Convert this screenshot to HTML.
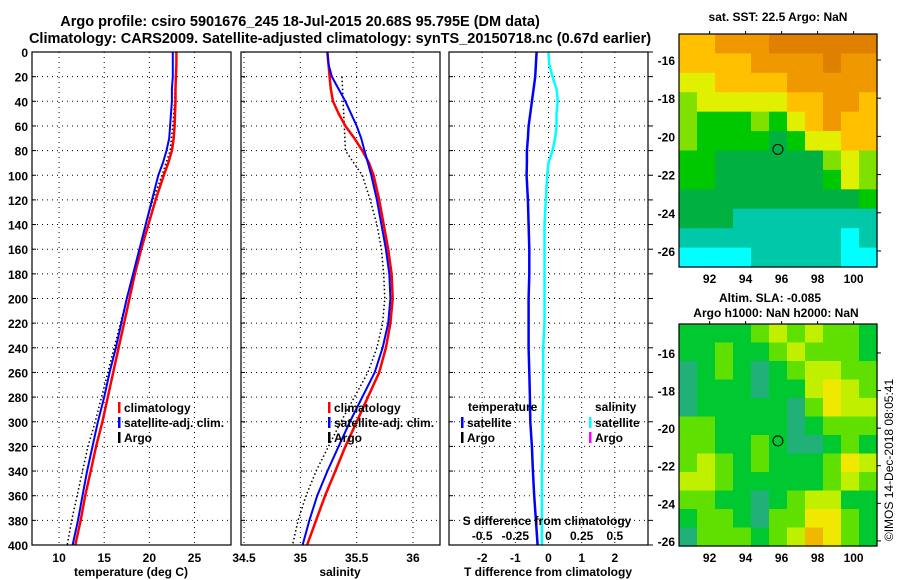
<!DOCTYPE html>
<html><head><meta charset="utf-8"><style>
body{margin:0;background:#fff;}
svg{display:block;font-family:"Liberation Sans",sans-serif;font-weight:bold;}
</style></head><body>
<svg id="c" width="900" height="580" viewBox="0 0 900 580">
<text x="300" y="26" font-size="14.5" text-anchor="middle">Argo profile: csiro 5901676_245 18-Jul-2015 20.68S 95.795E (DM data)</text>
<text x="340" y="43" font-size="14.5" text-anchor="middle">Climatology: CARS2009. Satellite-adjusted climatology: synTS_20150718.nc (0.67d earlier)</text>
<text transform="translate(893,460) rotate(-90)" font-size="12" font-weight="normal" text-anchor="middle">©IMOS 14-Dec-2018 08:05:41</text>
</svg>
<script>
const depths=[0,10,20,30,40,50,60,70,80,90,100,120,140,160,180,200,220,240,260,280,300,320,340,360,380,400];
const tClim=[23.0,23.0,22.95,22.9,22.9,22.85,22.8,22.7,22.5,22.1,21.6,20.7,19.9,19.1,18.4,17.8,17.2,16.6,16.0,15.4,14.8,14.1,13.5,12.9,12.4,11.8];
const tSat=[22.6,22.6,22.6,22.5,22.5,22.4,22.3,22.2,21.9,21.5,21.0,20.3,19.6,18.9,18.2,17.5,16.9,16.3,15.6,15.0,14.3,13.7,13.1,12.6,12.1,11.5];
const sClim=[35.24,35.25,35.26,35.27,35.29,35.34,35.40,35.48,35.55,35.61,35.65,35.70,35.74,35.78,35.81,35.82,35.80,35.76,35.70,35.60,35.50,35.40,35.31,35.22,35.14,35.06];
const sSat=[35.24,35.25,35.28,35.34,35.40,35.45,35.50,35.54,35.57,35.60,35.63,35.68,35.72,35.76,35.79,35.80,35.78,35.73,35.66,35.55,35.44,35.34,35.24,35.15,35.08,35.02];
const argoDepths=[20,40,60,80,100,120,140,160,180,200,220,240,260,280,300,320,340,360,380,400];
const tArgo=[22.9,22.8,22.6,22.3,21.4,20.4,19.6,18.9,18.2,17.5,16.8,16.1,15.4,14.7,14.0,13.2,12.6,12.0,11.4,10.9];
const sArgo=[35.37,35.38,35.39,35.40,35.55,35.62,35.68,35.72,35.74,35.75,35.73,35.68,35.60,35.48,35.36,35.25,35.14,35.05,34.98,34.93];
const tDiff=[-0.36,-0.38,-0.40,-0.45,-0.50,-0.55,-0.6,-0.62,-0.65,-0.65,-0.66,-0.62,-0.6,-0.58,-0.58,-0.6,-0.6,-0.6,-0.58,-0.56,-0.55,-0.5,-0.47,-0.43,-0.38,-0.33];
const sDiff=[0,0.005,0.03,0.06,0.07,0.06,0.06,0.05,0.03,0.0,-0.01,-0.02,-0.03,-0.03,-0.03,-0.03,-0.03,-0.04,-0.04,-0.04,-0.045,-0.045,-0.05,-0.05,-0.05,-0.05];
const depthTicks=[0,20,40,60,80,100,120,140,160,180,200,220,240,260,280,300,320,340,360,380,400];
const tTicks=[10,15,20,25];
const sTicks=[34.5,35,35.5,36];
const sTickLabels=["34.5","35","35.5","36"];
const dTTicks=[-2,-1,0,1,2];
const dSTicks=[-0.5,-0.25,0,0.25,0.5];
const dSTickLabels=["-0.5","-0.25","0","0.25","0.5"];
const sstLevels=[
[6,6,7,7,7,8,8,8,8,8,8],[6,6,6,6,7,7,7,7,8,7,7],[5,5,6,6,6,6,7,7,7,7,7],[4,5,5,5,5,5,6,6,7,7,6],
[4,3,3,3,4,3,5,6,7,6,6],[4,3,3,3,3,2,3,5,5,6,6],[3,3,2,2,2,2,2,2,4,5,4],[3,3,2,2,2,2,2,2,3,5,4],
[2,2,2,2,2,2,2,2,2,2,3],[2,2,2,1,1,1,1,1,1,1,1],[1,1,1,1,1,1,1,1,1,0,1],[0,0,0,0,1,1,1,1,1,0,0]];
const slaLevels=[
[2,2,2,2,3,4,3,4,3,3,2],[2,2,3,2,2,3,4,3,3,3,2],[1,2,3,2,1,2,3,4,4,3,3],[1,2,2,2,1,2,2,4,5,4,3],
[1,2,2,2,2,2,1,3,5,4,4],[3,3,2,2,2,2,1,2,3,3,3],[3,3,2,2,3,2,1,1,2,3,2],[3,4,3,2,3,2,2,2,3,5,4],
[4,4,3,2,2,2,2,2,3,4,3],[3,3,2,2,1,2,3,4,4,2,2],[2,3,3,2,1,3,3,5,5,3,2],[1,3,3,3,2,3,4,6,5,3,2]];
const lonTicks=[92,94,96,98,100];
const latTicks=[-16,-18,-20,-22,-24,-26];
const argoLat=-20.68, argoLon=95.795;

const NS="http://www.w3.org/2000/svg";
const svg=document.getElementById('c');
function mk(tag,attrs,parent){const e=document.createElementNS(NS,tag);for(const k in attrs)e.setAttribute(k,attrs[k]);(parent||svg).appendChild(e);return e;}
function txt(x,y,s,size,anchor,parent){const t=mk('text',{x:x,y:y,'font-size':size,'text-anchor':anchor||'middle'},parent);t.textContent=s;return t;}

const PT=52,PB=545;
const yD=d=>PT+(d/400)*(PB-PT);
function panel(x0,x1,dmin,dmax,name){
  const g=mk('g',{});
  
  
  return {g:g,x:v=>x0+(v-dmin)/(dmax-dmin)*(x1-x0),x0:x0,x1:x1};
}
function grid(p,xt,yt){
  xt.forEach(v=>{const X=p.x(v);if(X>p.x0+2&&X<p.x1-2)mk('line',{x1:X,x2:X,y1:PT,y2:PB,stroke:'#000','stroke-width':1,'stroke-dasharray':'1,4'},p.g);});
  yt.forEach(d=>{const Y=yD(d);if(d>0&&d<400)mk('line',{x1:p.x0,x2:p.x1,y1:Y,y2:Y,stroke:'#000','stroke-width':1,'stroke-dasharray':'1,4'},p.g);});
}
function line(p,vals,ds,color,w,name,dash){
  const pts=vals.map((v,i)=>p.x(v).toFixed(1)+','+yD(ds[i]).toFixed(1)).join(' ');
  const l=mk('polyline',{points:pts,fill:'none',stroke:color,'stroke-width':w},p.g);
  if(dash)l.setAttribute('stroke-dasharray',dash);
  
  
}
function frame(p){mk('rect',{x:p.x0,y:PT,width:p.x1-p.x0,height:PB-PT,fill:'none',stroke:'#000','stroke-width':1.2},p.g);
  depthTicks.forEach(d=>{mk('line',{x1:p.x0,x2:p.x0+4,y1:yD(d),y2:yD(d),stroke:'#000'},p.g);});}
function legend(x,y,items,g){
  items.forEach((it,i)=>{const Y=y+i*15;mk('rect',{x:x,y:Y-10,width:2.5,height:11,fill:it[1]},g);const t=txt(x+6,Y,it[0],12,'start',g);});
}

const p1=panel(32,231,7,29.05,'temperature-panel');
grid(p1,tTicks,depthTicks);
line(p1,tArgo,argoDepths,'#000',1.5,'argo-temperature-line','1.5,2.5');
line(p1,tClim,depths,'#f00',2.5,'clim-temperature-line');
line(p1,tSat,depths,'#00f',2,'sat-temperature-line');
frame(p1);
tTicks.forEach(v=>txt(p1.x(v),562,String(v),12,'middle',p1.g));
depthTicks.forEach(d=>txt(28,yD(d)+5,String(d),12,'end',p1.g));
const xl1=txt(131,576,'temperature (deg C)',12,'middle',p1.g);
legend(118,412,[['climatology','#f00'],['satellite-adj. clim.','#00f'],['Argo','#000']],p1.g);

const p2=panel(241,440,34.473,36.24,'salinity-panel');
grid(p2,sTicks,depthTicks);
line(p2,sArgo,argoDepths,'#000',1.5,'argo-salinity-line','1.5,2.5');
line(p2,sClim,depths,'#f00',2.5,'clim-salinity-line');
line(p2,sSat,depths,'#00f',2,'sat-salinity-line');
frame(p2);
sTicks.forEach((v,i)=>txt(p2.x(v),562,sTickLabels[i],12,'middle',p2.g));
const xl2=txt(340,576,'salinity',12,'middle',p2.g);
legend(328,412,[['climatology','#f00'],['satellite-adj. clim.','#00f'],['Argo','#000']],p2.g);

const p3=panel(449,648,-3,3,'difference-panel');
const p3s={x:v=>449+(v+0.75)/1.5*199};
grid(p3,dTTicks,depthTicks);
line(p3,tDiff,depths,'#00f',2.5,'t-diff-satellite-line');
line({x:p3s.x,g:p3.g},sDiff,depths,'#0ff',2.5,'s-diff-satellite-line');
frame(p3);
depthTicks.forEach(d=>mk('line',{x1:648,x2:653,y1:yD(d),y2:yD(d),stroke:'#000'},p3.g));
dTTicks.forEach(v=>txt(p3.x(v),562,String(v),12,'middle',p3.g));
dSTicks.forEach((v,i)=>txt(p3s.x(v),540,dSTickLabels[i],12,'middle',p3.g));
txt(547,525,'S difference from climatology',12,'middle',p3.g);
const xl3=txt(548,576,'T difference from climatology',12,'middle',p3.g);
txt(468,411,'temperature',12,'start',p3.g);
txt(595,411,'salinity',12,'start',p3.g);
legend(461,427,[['satellite','#00f'],['Argo','#000']],p3.g);
legend(589,427,[['satellite','#0ff'],['Argo','#f0f']],p3.g);

const sstColors=['#00ffff','#00c8a8','#00b040','#00c800','#80e000','#e0f000','#ffc000','#f09800','#e08000'];
const slaColors=['#00a090','#20b078','#00c830','#60e000','#c0f000','#f0e800','#f0b800'];
function map(x0,y0,w,h,lat0,lat1,lon0,lon1,levels,cols,name){
  const g=mk('g',{});
  
  
  const R=levels.length,C=levels[0].length;
  const X=lon=>x0+(lon-lon0)/(lon1-lon0)*w, Y=lat=>y0+(lat0-lat)/(lat0-lat1)*h;
  levels.forEach((row,r)=>row.forEach((v,c)=>{
    const cell=mk('rect',{x:x0+c*w/C,y:y0+r*h/R,width:w/C+0.6,height:h/R+0.6,fill:cols[v]},g);
    
    
  }));
  mk('rect',{x:x0,y:y0,width:w,height:h,fill:'none',stroke:'#000','stroke-width':1.2},g);
  lonTicks.forEach(l=>{mk('line',{x1:X(l),x2:X(l),y1:y0-3,y2:y0,stroke:'#000'},g);txt(X(l),y0+h+16,String(l),12,'middle',g);});
  latTicks.forEach(l=>{mk('line',{x1:x0+w,x2:x0+w+4,y1:Y(l),y2:Y(l),stroke:'#000'},g);txt(x0-4,Y(l)+5,String(l),12,'end',g);});
  const m=mk('circle',{cx:X(argoLon),cy:Y(argoLat),r:5,fill:'none',stroke:'#000','stroke-width':1},g);
  
  
}
map(679,34,198,233,-14.64,-26.84,90.3,101.3,sstLevels,sstColors,'sst-map');
map(679,324,198,222,-14.46,-26.27,90.3,101.3,slaLevels,slaColors,'sla-map');
txt(778,21,'sat. SST: 22.5 Argo: NaN',12,'middle');
txt(770,302,'Altim. SLA: -0.085',12,'middle');
txt(776,317,'Argo h1000: NaN h2000: NaN',12,'middle');
</script>
</body></html>
